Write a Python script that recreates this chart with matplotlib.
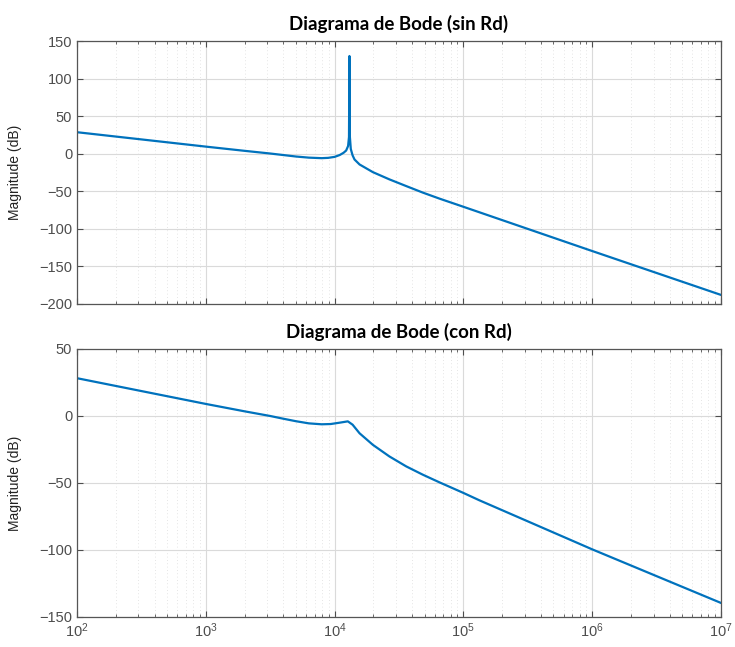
import numpy as np
import matplotlib.pyplot as plt
from matplotlib.ticker import LogLocator, NullFormatter, MultipleLocator

plt.rcParams['font.family'] = ['Liberation Sans', 'DejaVu Sans']
plt.rcParams['mathtext.fontset'] = 'custom'
plt.rcParams['mathtext.rm'] = 'Liberation Sans'

# log10 de la frecuencia y magnitud en dB
log_f_sin = [2.0, 3.0, 3.3, 3.5, 3.6, 3.7, 3.8, 3.9, 3.95, 4.0, 4.04,
             4.07, 4.09, 4.105, 4.112, 4.1155, 4.119, 4.126, 4.14, 4.155,
             4.194, 4.297, 4.426, 4.556, 4.685, 4.814, 5.0, 6.0, 7.0]
mag_sin = [28.4, 9.2, 3.6, 0.0, -2.0, -4.0, -5.5, -6.2, -5.8, -4.5,
           -2.0, 1.0, 4.0, 10.0, 22.0, 130.0, 22.0, 6.0, -2.5, -8.0,
           -14.6, -24.8, -34.5, -43.4, -52.1, -60.1, -71.0, -130.0, -188.5]

log_f_con = [2.0, 3.0, 3.3, 3.5, 3.6, 3.7, 3.8, 3.9, 3.97, 4.039, 4.103,
             4.14, 4.194, 4.297, 4.426, 4.556, 4.685, 4.814, 5.0, 5.124,
             6.0, 7.0]
mag_con = [28.2, 9.0, 3.5, 0.0, -2.0, -3.9, -5.5, -6.2, -6.0, -5.0,
           -4.0, -6.5, -12.9, -21.5, -30.2, -37.6, -43.8, -49.5, -57.4,
           -62.9, -99.5, -139.5]

titulos = ['Diagrama de Bode (sin Rd)', 'Diagrama de Bode (con Rd)']
ylims = [(-200, 150), (-150, 50)]

azul = '#0072BD'
gris = '#4d4d4d'

fig = plt.figure(figsize=(7.35, 6.47), dpi=100)
ax1 = fig.add_axes([0.1048, 0.5309, 0.876, 0.4057])
ax2 = fig.add_axes([0.1048, 0.0464, 0.876, 0.4142])

series = [(log_f_sin, mag_sin), (log_f_con, mag_con)]
for i, ax in enumerate([ax1, ax2]):
    lf, mag = series[i]
    f = 10.0 ** np.array(lf)
    ax.semilogx(f, mag, color=azul, lw=1.6, solid_joinstyle='round')
    ax.set_xlim(1e2, 1e7)
    ax.set_ylim(*ylims[i])
    ax.yaxis.set_major_locator(MultipleLocator(50))
    ax.xaxis.set_major_locator(LogLocator(base=10, numticks=20))
    ax.xaxis.set_minor_locator(LogLocator(base=10, subs=np.arange(2, 10), numticks=20))
    ax.xaxis.set_minor_formatter(NullFormatter())
    ax.grid(True, which='major', color='#dadada', lw=0.8)
    ax.grid(True, which='minor', axis='x', color='#dcdcdc', lw=0.6, ls=(0, (1, 3)))
    ax.set_axisbelow(True)
    ax.tick_params(which='both', direction='in', top=True, right=True,
                   colors=gris, labelcolor=gris, labelsize=10.5)
    ax.tick_params(which='major', length=4, width=0.8)
    ax.tick_params(which='minor', length=2.5, width=0.6)
    for s in ax.spines.values():
        s.set_color('#555555')
        s.set_linewidth(0.9)
    ax.set_ylabel('Magnitude (dB)', fontsize=10, color='#222222')
    ax.yaxis.set_label_coords(-0.085, 0.5)
    ax.set_title(titulos[i], fontsize=13.5, fontweight='bold',
                 family=['Lato', 'DejaVu Sans'], pad=8)

ax1.tick_params(labelbottom=False)

fig.savefig('out.png', dpi=100)
